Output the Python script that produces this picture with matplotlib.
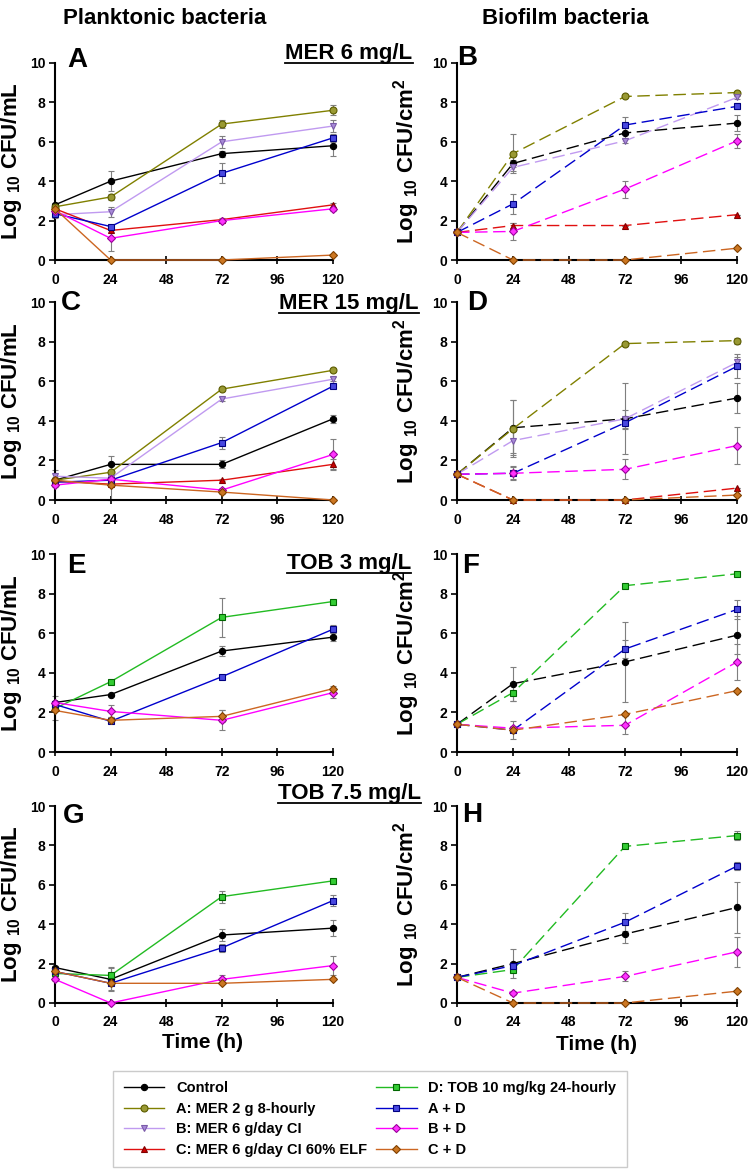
import matplotlib
matplotlib.use('Agg')
import matplotlib.pyplot as plt
from matplotlib.lines import Line2D

plt.rcParams['font.family'] = ['Liberation Sans', 'DejaVu Sans']
plt.rcParams['font.weight'] = 'bold'
plt.rcParams['mathtext.fontset'] = 'custom'
plt.rcParams['mathtext.rm'] = 'Liberation Sans:bold'
plt.rcParams['mathtext.it'] = 'Liberation Sans:bold'
plt.rcParams['mathtext.bf'] = 'Liberation Sans:bold'

hours = [0, 24, 72, 120]
x_ticks = [0, 24, 48, 72, 96, 120]
y_ticks = [0, 2, 4, 6, 8, 10]

series_labels = {
    'ctrl': 'Control',
    'A': 'A: MER 2 g 8-hourly',
    'B': 'B: MER 6 g/day CI',
    'C': 'C: MER 6 g/day CI 60% ELF',
    'D': 'D: TOB 10 mg/kg 24-hourly',
    'AD': 'A + D',
    'BD': 'B + D',
    'CD': 'C + D',
}
legend_order = ['ctrl', 'A', 'B', 'C', 'D', 'AD', 'BD', 'CD']

panel_letters = ['A', 'B', 'C', 'D', 'E', 'F', 'G', 'H']
row_titles = ['MER 6 mg/L', 'MER 15 mg/L', 'TOB 3 mg/L', 'TOB 7.5 mg/L']

# mean log10 counts, one dict per panel
plank_mer6 = {
    'ctrl': [2.8, 4.0, 5.4, 5.8],
    'A': [2.7, 3.2, 6.9, 7.6],
    'B': [2.3, 2.45, 6.0, 6.8],
    'C': [2.6, 1.5, 2.05, 2.8],
    'AD': [2.35, 1.7, 4.4, 6.2],
    'BD': [2.5, 1.1, 2.0, 2.6],
    'CD': [2.6, 0.0, 0.0, 0.25],
}
plank_mer6_err = {
    'ctrl': [0.1, 0.5, 0.15, 0.5], 'A': [0.1, 0.15, 0.2, 0.25],
    'B': [0.15, 0.25, 0.3, 0.3], 'C': [0, 0, 0.1, 0.1],
    'AD': [0.1, 0.1, 0.5, 0.2], 'BD': [0.1, 0.65, 0.05, 0.1],
    'CD': [0, 0, 0, 0],
}
bio_mer6 = {
    'ctrl': [1.4, 4.9, 6.45, 6.95],
    'A': [1.4, 5.4, 8.3, 8.5],
    'B': [1.4, 4.7, 6.05, 8.25],
    'C': [1.4, 1.75, 1.75, 2.3],
    'AD': [1.4, 2.85, 6.85, 7.8],
    'BD': [1.4, 1.45, 3.6, 6.05],
    'CD': [1.4, 0.0, 0.0, 0.6],
}
bio_mer6_err = {
    'ctrl': [0, 0.2, 0.25, 0.4], 'A': [0, 1.0, 0.05, 0.05],
    'B': [0, 0.2, 0.1, 0.1], 'C': [0, 0.15, 0, 0],
    'AD': [0, 0.5, 0.4, 0.15], 'BD': [0, 0.45, 0.43, 0.35],
    'CD': [0, 0, 0, 0],
}
plank_mer15 = {
    'ctrl': [1.0, 1.8, 1.8, 4.1],
    'A': [1.0, 1.4, 5.6, 6.55],
    'B': [1.2, 1.1, 5.1, 6.1],
    'C': [0.95, 0.8, 1.0, 1.8],
    'AD': [0.9, 1.0, 2.9, 5.75],
    'BD': [0.75, 1.05, 0.5, 2.3],
    'CD': [1.0, 0.75, 0.4, 0.0],
}
plank_mer15_err = {
    'ctrl': [0.1, 0.4, 0.2, 0.2], 'A': [0.1, 0.05, 0.1, 0.1],
    'B': [0.3, 0.1, 0.1, 0.1], 'C': [0.1, 0.1, 0.05, 0.25],
    'AD': [0.1, 0.1, 0.3, 0.1], 'BD': [0.1, 0.1, 0.1, 0.8],
    'CD': [0.1, 0.75, 0.1, 0],
}
bio_mer15 = {
    'ctrl': [1.3, 3.65, 4.1, 5.15],
    'A': [1.3, 3.6, 7.9, 8.05],
    'B': [1.3, 3.0, 4.1, 6.95],
    'C': [1.3, 0.0, 0.0, 0.6],
    'AD': [1.3, 1.35, 3.9, 6.75],
    'BD': [1.3, 1.35, 1.55, 2.75],
    'CD': [1.3, 0.0, 0.0, 0.25],
}
bio_mer15_err = {
    'ctrl': [0, 1.4, 1.8, 0.75], 'A': [0, 1.45, 0.1, 0.15],
    'B': [0, 0.65, 0.45, 0.25], 'C': [0, 0, 0, 0],
    'AD': [0, 0.3, 0.3, 0.6], 'BD': [0, 0.35, 0.5, 0.95],
    'CD': [0, 0, 0, 0],
}
plank_tob3 = {
    'ctrl': [2.5, 2.9, 5.1, 5.8],
    'D': [2.2, 3.55, 6.8, 7.6],
    'AD': [2.4, 1.55, 3.8, 6.2],
    'BD': [2.5, 2.05, 1.6, 3.0],
    'CD': [2.1, 1.6, 1.8, 3.2],
}
plank_tob3_err = {
    'ctrl': [0.35, 0.05, 0.25, 0.2], 'D': [0.1, 0.05, 1.0, 0.05],
    'AD': [0.1, 0.1, 0.05, 0.2], 'BD': [0.1, 0.3, 0.5, 0.25],
    'CD': [0.5, 0.15, 0.3, 0.15],
}
bio_tob3 = {
    'ctrl': [1.4, 3.45, 4.55, 5.9],
    'D': [1.4, 3.0, 8.4, 9.0],
    'AD': [1.4, 1.1, 5.2, 7.2],
    'BD': [1.4, 1.2, 1.35, 4.55],
    'CD': [1.4, 1.1, 1.9, 3.1],
}
bio_tob3_err = {
    'ctrl': [0, 0.85, 2.0, 0.95], 'D': [0, 0.4, 0.05, 0.05],
    'AD': [0, 0.1, 0.45, 0.5], 'BD': [0, 0.1, 0.45, 0.9],
    'CD': [0, 0.45, 0.05, 0.05],
}
plank_tob75 = {
    'ctrl': [1.8, 1.2, 3.45, 3.8],
    'D': [1.5, 1.4, 5.4, 6.2],
    'AD': [1.6, 1.0, 2.8, 5.2],
    'BD': [1.2, 0.0, 1.2, 1.9],
    'CD': [1.6, 1.0, 1.0, 1.2],
}
plank_tob75_err = {
    'ctrl': [0.1, 0.6, 0.3, 0.4], 'D': [0.1, 0.45, 0.3, 0.05],
    'AD': [0.1, 0.1, 0.2, 0.3], 'BD': [0.1, 0, 0.2, 0.5],
    'CD': [0.1, 0.35, 0.05, 0.05],
}
bio_tob75 = {
    'ctrl': [1.3, 2.0, 3.5, 4.85],
    'D': [1.3, 1.7, 7.95, 8.5],
    'AD': [1.3, 1.9, 4.1, 6.95],
    'BD': [1.3, 0.5, 1.35, 2.6],
    'CD': [1.3, 0.0, 0.0, 0.6],
}
bio_tob75_err = {
    'ctrl': [0, 0.75, 0.45, 1.3], 'D': [0, 0.1, 0.05, 0.25],
    'AD': [0, 0.2, 0.45, 0.2], 'BD': [0, 0.1, 0.25, 0.75],
    'CD': [0, 0, 0, 0],
}

panels = [
    (plank_mer6, plank_mer6_err), (bio_mer6, bio_mer6_err),
    (plank_mer15, plank_mer15_err), (bio_mer15, bio_mer15_err),
    (plank_tob3, plank_tob3_err), (bio_tob3, bio_tob3_err),
    (plank_tob75, plank_tob75_err), (bio_tob75, bio_tob75_err),
]

# line colour, marker, marker face, marker edge, marker size
styles = {
    'ctrl': ('#000000', 'o', '#000000', '#000000', 4.5),
    'A': ('#808000', 'o', '#999933', '#5c5c00', 5),
    'B': ('#c09af0', 'v', '#a88ad8', '#7a5aa8', 5),
    'C': ('#e01010', '^', '#cc0000', '#800000', 5),
    'D': ('#22bb22', 's', '#33cc33', '#006600', 4.5),
    'AD': ('#0000cc', 's', '#4848e0', '#000080', 4.5),
    'BD': ('#ff00ff', 'D', '#ff33ff', '#990099', 4),
    'CD': ('#cc6622', 'D', '#cc7722', '#804000', 4),
}

W, H = 750, 1171
fig = plt.figure(figsize=(W / 100, H / 100), dpi=100)

col_left = [55, 457]
col_right = [333, 737]
row_top = [63, 302, 554, 806]
row_bottom = [260, 500, 752, 1003]
letter_pos = [(0.043, 0.98), (0.0, 0.99), (0.02, 0.96), (0.036, 0.96),
              (0.043, 0.905), (0.02, 0.905), (0.03, 0.915), (0.02, 0.92)]

axes = []
for i, (means, errs) in enumerate(panels):
    r, c = divmod(i, 2)
    l, rt = col_left[c], col_right[c]
    t, b = row_top[r], row_bottom[r]
    ax = fig.add_axes([l / W, 1 - b / H, (rt - l) / W, (b - t) / H])
    axes.append(ax)
    ls = '-' if c == 0 else (0, (9, 4))
    for key in legend_order:
        if key not in means:
            continue
        lc, mk, mf, me, ms = styles[key]
        ax.errorbar(hours, means[key], yerr=errs[key], fmt='none',
                    ecolor='#7f7f7f', elinewidth=0.8, capsize=2.5,
                    capthick=0.8, zorder=2, clip_on=False)
        ax.plot(hours, means[key], color=lc, lw=1.0, linestyle=ls,
                marker=mk, markerfacecolor=mf, markeredgecolor=me,
                markersize=ms, markeredgewidth=0.8, zorder=3, clip_on=False)
    ax.set_xlim(0, 120)
    ax.set_ylim(0, 10)
    ax.set_xticks(x_ticks)
    ax.set_yticks(y_ticks)
    for s in ['top', 'right']:
        ax.spines[s].set_visible(False)
    for s in ['left', 'bottom']:
        ax.spines[s].set_linewidth(1.5)
    ax.tick_params(axis='x', direction='inout', length=6, width=1.2,
                   labelsize=10, pad=6)
    ax.tick_params(axis='y', direction='out', length=4, width=1.2,
                   labelsize=10, pad=3)
    for lab in ax.get_xticklabels() + ax.get_yticklabels():
        lab.set_fontweight('bold')
    if c == 0:
        ax.set_ylabel(r'Log $_{10}$ CFU/mL', fontsize=16, fontweight='bold')
        ax.yaxis.set_label_coords(-31 / 278, 0.5)
    else:
        ax.set_ylabel(r'Log $_{10}$ CFU/cm$^2$', fontsize=16, fontweight='bold')
        ax.yaxis.set_label_coords(-35 / 280, 0.5)
    if r == 3:
        ax.set_xlabel('Time (h)', fontsize=15, fontweight='bold', labelpad=4)
        if c == 0:
            ax.xaxis.set_label_coords(0.53, -0.152)
    lx, ly = letter_pos[i]
    ax.text(lx, ly, panel_letters[i], transform=ax.transAxes, fontsize=20,
            fontweight='bold', ha='left', va='baseline')

fig.text(165 / W, 1 - 18 / H, 'Planktonic bacteria', fontsize=16,
         fontweight='bold', ha='center', va='center')
fig.text(565 / W, 1 - 18 / H, 'Biofilm bacteria', fontsize=16,
         fontweight='bold', ha='center', va='center')

title_y = [53, 303, 563, 793]
title_texts = []
for ty, txt in zip(title_y, row_titles):
    title_texts.append(fig.text(349 / W, 1 - ty / H, txt, fontsize=16,
                                fontweight='bold', ha='center', va='center'))

handles = []
for key in legend_order:
    lc, mk, mf, me, ms = styles[key]
    handles.append(Line2D([0], [0], color=lc, lw=1.0, marker=mk,
                          markerfacecolor=mf, markeredgecolor=me,
                          markersize=ms, markeredgewidth=0.8))
leg = fig.legend(handles, [series_labels[k] for k in legend_order], ncol=2,
                 loc='center', bbox_to_anchor=(370 / W, 1 - 1119 / H),
                 prop={'weight': 'bold', 'size': 10.5}, frameon=True,
                 fancybox=False, edgecolor='#bfbfbf', handlelength=2.8,
                 columnspacing=0.6, labelspacing=0.45, borderpad=0.7,
                 numpoints=1)
leg.get_frame().set_linewidth(1.0)

fig.canvas.draw()
renderer = fig.canvas.get_renderer()
for t in title_texts:
    bb = t.get_window_extent(renderer)
    y = (bb.y0 + 1) / H
    fig.add_artist(Line2D([bb.x0 / W, bb.x1 / W], [y, y], color='black',
                          lw=1.3, transform=fig.transFigure))

fig.savefig('out.png', dpi=100)
